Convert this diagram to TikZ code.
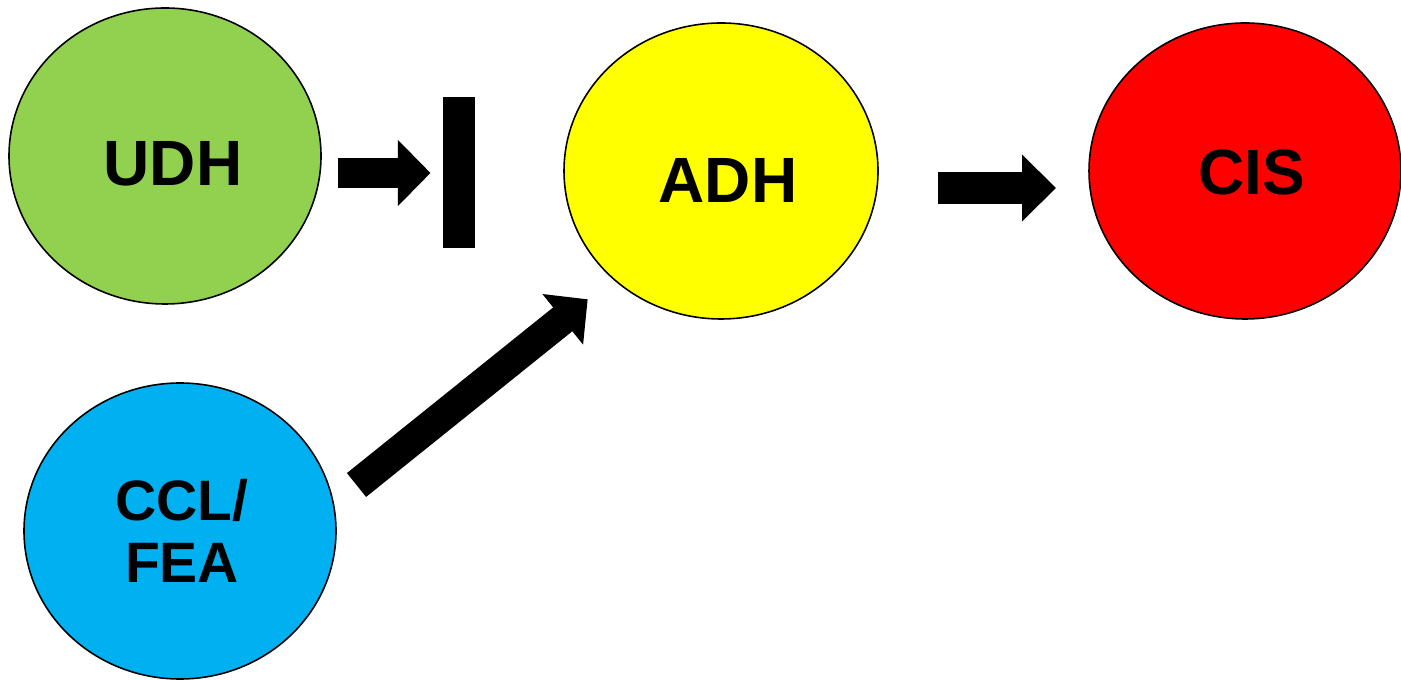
\documentclass[tikz,border=0pt]{standalone}
\usepackage{fontspec}
\setmainfont{Liberation Sans}
\usetikzlibrary{arrows.meta}
\definecolor{cgreen}{HTML}{92D050}
\definecolor{cyellow}{HTML}{FFFF00}
\definecolor{cred}{HTML}{FF0000}
\definecolor{cblue}{HTML}{00B0F0}
\begin{document}
\begin{tikzpicture}[x=0.01cm,y=-0.01cm,
  lbl/.style={font=\bfseries\fontsize{18.2}{20}\selectfont,anchor=base,inner sep=0pt},
]
\useasboundingbox (0,0) rectangle (1401,680);
% ellipses
\filldraw[fill=cgreen,line width=0.45pt] (165,156) ellipse [x radius=156,y radius=148];
\filldraw[fill=cyellow,line width=0.45pt] (721,171) ellipse [x radius=157,y radius=148];
\filldraw[fill=cred,line width=0.45pt] (1245,171) ellipse [x radius=156,y radius=148];
\filldraw[fill=cblue,line width=0.45pt] (180,531) ellipse [x radius=156,y radius=148];
% labels
\node[lbl] (udh) at (173,186) {UDH};
\node[lbl] (adh) at (728,203) {ADH};
\node[lbl] (cis) at (1252,195) {CIS};
\node[lbl,font=\bfseries\fontsize{16.2}{17.9}\selectfont,align=center] (ccl) at (182,583) {CCL/\\FEA};
% connector anchors
\coordinate (a1s) at (338,173);
\coordinate (a1e) at (430.5,173);
\coordinate (a2s) at (938,188);
\coordinate (a2e) at (1056,188);
\coordinate (a3s) at (356.5,485);
\coordinate (a3e) at (587.7,299.3);
% arrows
\draw[line width=8.8pt,-{Triangle[length=0.325cm,width=0.64cm]}] (a1s) -- (a1e);
\fill (443,97) rectangle (475,248);
\draw[line width=9.1pt,-{Triangle[length=0.34cm,width=0.65cm]}] (a2s) -- (a2e);
\draw[line width=8.7pt,-{Triangle[length=0.32cm,width=0.63cm]}] (a3s) -- (a3e);
\end{tikzpicture}
\end{document}
